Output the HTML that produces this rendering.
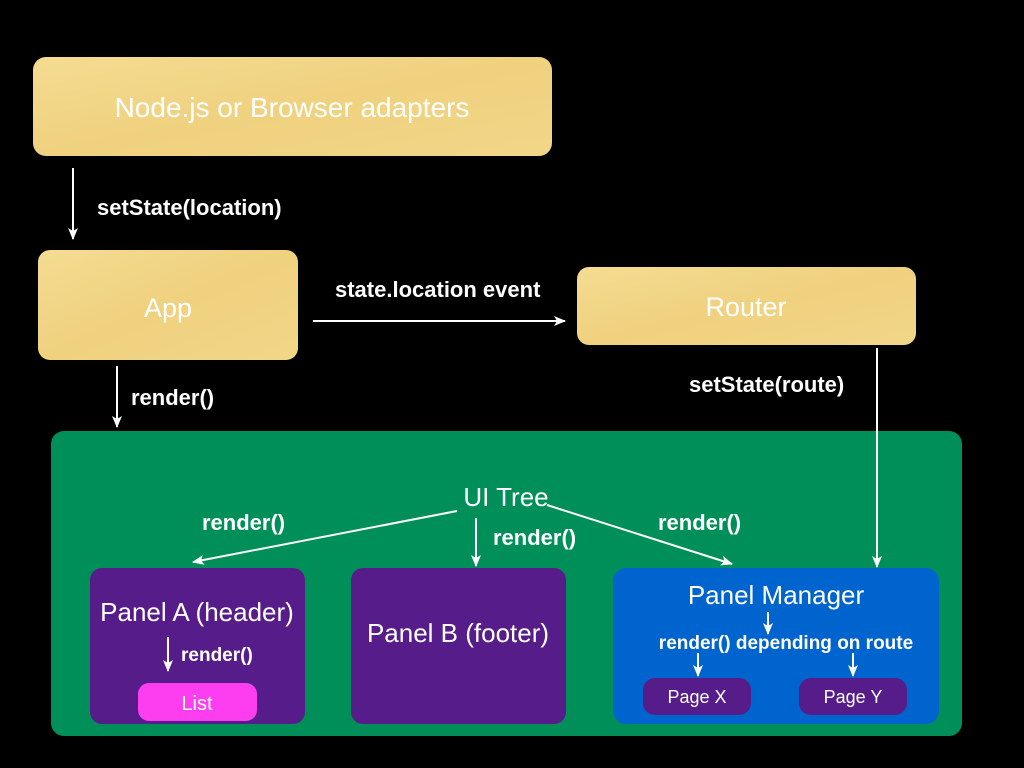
<!DOCTYPE html>
<html><head><meta charset="utf-8"><style>
html,body{margin:0;padding:0;background:#000;width:1024px;height:768px;overflow:hidden}
svg{display:block}
text{font-family:"Liberation Sans",sans-serif;fill:#fff}
</style></head><body>
<svg width="1024" height="768" viewBox="0 0 1024 768">
<defs>
<linearGradient id="y" x1="0" y1="0" x2="1" y2="1">
<stop offset="0" stop-color="#f5dc92"/><stop offset="0.5" stop-color="#efd17f"/><stop offset="1" stop-color="#f2d688"/>
</linearGradient>
<marker id="a" markerWidth="12" markerHeight="12" refX="11" refY="6" orient="auto" markerUnits="userSpaceOnUse">
<path d="M0,1 L12,6 L0,11 L3,6 Z" fill="#fff"/>
</marker>
</defs>
<rect width="1024" height="768" fill="#000"/>
<rect x="33" y="57" width="519" height="99" rx="13" fill="url(#y)"/>
<rect x="38" y="250" width="260" height="110" rx="12" fill="url(#y)"/>
<rect x="577" y="267" width="339" height="78" rx="12" fill="url(#y)"/>
<text x="292" y="117" font-size="28" text-anchor="middle">Node.js or Browser adapters</text>
<text x="168" y="317" font-size="27" text-anchor="middle">App</text>
<text x="746" y="316" font-size="27" text-anchor="middle">Router</text>

<g stroke="#fff" stroke-width="2" fill="none">
<line x1="73" y1="168" x2="73" y2="239" marker-end="url(#a)"/>
<line x1="313" y1="321" x2="565" y2="321" marker-end="url(#a)"/>
<line x1="117" y1="366" x2="117" y2="427" marker-end="url(#a)"/>
</g>
<text x="97" y="215" font-size="22" font-weight="bold">setState(location)</text>
<text x="335" y="297" font-size="22" font-weight="bold">state.location event</text>
<text x="131" y="405" font-size="22" font-weight="bold">render()</text>
<text x="689" y="392" font-size="22" font-weight="bold">setState(route)</text>

<rect x="51" y="431" width="911" height="305" rx="13" fill="#008f58"/>
<rect x="90" y="568" width="215" height="156" rx="12" fill="#561c8a"/>
<rect x="351" y="568" width="215" height="156" rx="12" fill="#561c8a"/>
<rect x="613" y="568" width="326" height="156" rx="13" fill="#0064cf"/>
<rect x="138" y="683" width="119" height="38" rx="11" fill="#fd3ef0"/>
<rect x="643" y="678" width="108" height="37" rx="12" fill="#561c8a"/>
<rect x="799" y="678" width="108" height="37" rx="12" fill="#561c8a"/>

<g stroke="#fff" stroke-width="2" fill="none">
<line x1="877" y1="348" x2="877" y2="567" marker-end="url(#a)"/>
<line x1="457" y1="511" x2="193" y2="562" marker-end="url(#a)"/>
<line x1="476" y1="518" x2="476" y2="566" marker-end="url(#a)"/>
<line x1="547" y1="505" x2="732" y2="564" marker-end="url(#a)"/>
<line x1="168" y1="637" x2="168" y2="671" marker-end="url(#a)"/>
<line x1="768" y1="612" x2="768" y2="634" marker-end="url(#a)"/>
<line x1="698" y1="653" x2="698" y2="676" marker-end="url(#a)"/>
<line x1="853" y1="653" x2="853" y2="676" marker-end="url(#a)"/>
</g>
<text x="506" y="506" font-size="26" text-anchor="middle">UI Tree</text>
<text x="202" y="530" font-size="22" font-weight="bold">render()</text>
<text x="493" y="545" font-size="22" font-weight="bold">render()</text>
<text x="658" y="530" font-size="22" font-weight="bold">render()</text>
<text x="197" y="621" font-size="26" text-anchor="middle">Panel A (header)</text>
<text x="181" y="661" font-size="19" font-weight="bold">render()</text>
<text x="197" y="710" font-size="20" text-anchor="middle">List</text>
<text x="458" y="642" font-size="26" text-anchor="middle">Panel B (footer)</text>
<text x="776" y="604" font-size="26" text-anchor="middle">Panel Manager</text>
<text x="786" y="649" font-size="19" font-weight="bold" text-anchor="middle">render() depending on route</text>
<text x="697" y="703" font-size="18" text-anchor="middle">Page X</text>
<text x="853" y="703" font-size="18" text-anchor="middle">Page Y</text>
</svg>
</body></html>
